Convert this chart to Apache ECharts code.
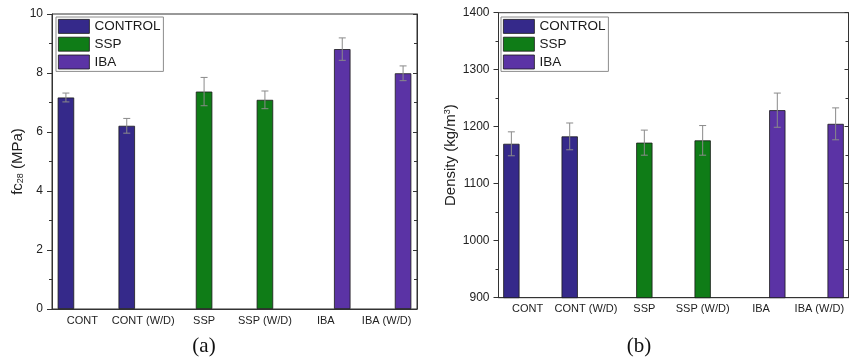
<!DOCTYPE html>
<html>
<head>
<meta charset="utf-8">
<script src="https://cdn.jsdelivr.net/npm/echarts@6/dist/echarts.min.js"></script>
<style>
  html, body { margin: 0; padding: 0; background: #fff; }
  #chart { width: 851px; height: 361px; }
</style>
</head>
<body>
<div id="chart"></div>
<script>
// ---- data ----
const categories = ['CONT', 'CONT (W/D)', 'SSP', 'SSP (W/D)', 'IBA', 'IBA (W/D)'];
const seriesNames = ['CONTROL', 'SSP', 'IBA'];

const fcControl = [7.17, 6.21, null, null, null, null];
const fcSSP     = [null, null, 7.37, 7.09, null, null];
const fcIBA     = [null, null, null, null, 8.81, 7.99];
const fcErr     = [0.15, 0.25, 0.48, 0.30, 0.38, 0.25];

const densControl = [1170, 1183, null, null, null, null];
const densSSP     = [null, null, 1172, 1176, null, null];
const densIBA     = [null, null, null, null, 1229, 1205];
const densErr     = [21, 23.5, 22, 26, 30, 28];

const fcTicks   = { min: 0, max: 10, interval: 2 };
const densTicks = { min: 900, max: 1400, interval: 100 };

// ---- styles ----
const colors = ['#35298a', '#0f7c17', '#5b33a5'];
const FONT = '"Liberation Sans", Arial, sans-serif';
const barW = [16.5, 16.3];

function errData(groups, errs) {
  const out = [];
  for (let i = 0; i < categories.length; i++) {
    for (let g = 0; g < groups.length; g++) {
      if (groups[g][i] != null) out.push([i, groups[g][i], errs[i], g]);
    }
  }
  return out;
}

function errSeries(idx, groups, errs) {
  return {
    type: 'custom',
    xAxisIndex: idx, yAxisIndex: idx * 2,
    z: 10,
    silent: true,
    data: errData(groups, errs),
    renderItem: function (params, api) {
      const cat = api.value(0), v = api.value(1), e = api.value(2), g = api.value(3);
      const c = api.coord([cat, v]);
      const t = api.coord([cat, v + e]);
      const b = api.coord([cat, v - e]);
      const x = c[0] + (g - 1) * barW[idx];
      const h = 3.5;
      const st = { stroke: '#8a8a8a', lineWidth: 1, fill: null };
      return {
        type: 'group',
        children: [
          { type: 'line', shape: { x1: x, y1: t[1], x2: x, y2: b[1] }, style: st },
          { type: 'line', shape: { x1: x - h, y1: t[1], x2: x + h, y2: t[1] }, style: st },
          { type: 'line', shape: { x1: x - h, y1: b[1], x2: x + h, y2: b[1] }, style: st }
        ]
      };
    }
  };
}

function barSeries(idx, groups) {
  return groups.map((d, g) => ({
    name: seriesNames[g],
    type: 'bar',
    xAxisIndex: idx, yAxisIndex: idx * 2,
    barWidth: barW[idx],
    barGap: '0%',
    data: d,
    itemStyle: { color: colors[g], borderColor: '#1b1b1b', borderWidth: 0.8 },
    emphasis: { disabled: true }
  }));
}

function xAxis(gridIndex) {
  return {
    type: 'category', gridIndex: gridIndex, data: categories,
    axisLine: { show: true, lineStyle: { color: '#333', width: 1 } },
    axisTick: { show: false },
    axisLabel: { fontSize: 11, color: '#222', fontFamily: FONT, margin: 6, interval: 0 },
    splitLine: { show: false }
  };
}

function yAxes(gridIndex, ticks, name, nameGap, rich) {
  return [
    {
      type: 'value', gridIndex: gridIndex, position: 'left',
      min: ticks.min, max: ticks.max, interval: ticks.interval,
      name: name, nameLocation: 'middle', nameGap: nameGap, nameRotate: 90,
      nameTextStyle: { fontSize: 15, color: '#222', fontFamily: FONT, rich: rich },
      axisLine: { show: true, lineStyle: { color: '#333', width: 1 } },
      axisTick: { show: true, inside: false, length: 5, lineStyle: { color: '#333' } },
      minorTick: { show: true, splitNumber: 2, length: 3, lineStyle: { color: '#333' } },
      axisLabel: { fontSize: 12, color: '#222', fontFamily: FONT, margin: 9, formatter: v => String(v) },
      splitLine: { show: false }
    },
    {
      type: 'value', gridIndex: gridIndex, position: 'right',
      min: ticks.min, max: ticks.max, interval: ticks.interval,
      axisLine: { show: true, lineStyle: { color: '#333', width: 1 } },
      axisTick: { show: true, inside: true, length: 4, lineStyle: { color: '#333' } },
      minorTick: { show: true, splitNumber: 2, length: 3, lineStyle: { color: '#333' } },
      axisLabel: { show: false },
      splitLine: { show: false }
    }
  ];
}

function legend(left, top) {
  return {
    orient: 'vertical', left: left, top: top,
    data: seriesNames,
    icon: 'rect',
    itemWidth: 31, itemHeight: 14, itemGap: 3,
    padding: [2, 3, 2, 2],
    backgroundColor: '#fff',
    borderColor: '#8c8c8c', borderWidth: 1,
    selectedMode: false,
    itemStyle: { borderColor: '#1b1b1b', borderWidth: 0.8 },
    textStyle: { fontSize: 13.5, color: '#1a1a1a', fontFamily: FONT, lineHeight: 14 }
  };
}

const fcGroups = [fcControl, fcSSP, fcIBA];
const densGroups = [densControl, densSSP, densIBA];

const option = {
  animation: false,
  backgroundColor: '#fff',
  grid: [
    { left: 52, top: 14, width: 365, height: 295, show: true, borderColor: '#333', borderWidth: 1, backgroundColor: 'transparent' },
    { left: 498.5, top: 12.7, width: 350, height: 285, show: true, borderColor: '#333', borderWidth: 1, backgroundColor: 'transparent' }
  ],
  legend: [legend(56, 17), legend(501, 17)],
  xAxis: [xAxis(0), xAxis(1)],
  yAxis: [].concat(
    yAxes(0, fcTicks, '{m|fc}{s|28}{m| (MPa)}', 27, {
      m: { fontSize: 15, color: '#222', fontFamily: FONT },
      s: { fontSize: 9, color: '#222', fontFamily: FONT, verticalAlign: 'bottom', padding: [6, 0, 0, 0] }
    }),
    yAxes(1, densTicks, '{m|Density (kg/m}{s|3}{m|)}', 40, {
      m: { fontSize: 15, color: '#222', fontFamily: FONT },
      s: { fontSize: 9, color: '#222', fontFamily: FONT, verticalAlign: 'top', padding: [0, 0, 6, 0] }
    })
  ),
  graphic: [
    { type: 'text', x: 204, y: 346, style: { text: '(a)', fontSize: 21, fontFamily: '"Liberation Serif", "Times New Roman", serif', fill: '#111', textAlign: 'center', textVerticalAlign: 'middle' } },
    { type: 'text', x: 639, y: 346, style: { text: '(b)', fontSize: 21, fontFamily: '"Liberation Serif", "Times New Roman", serif', fill: '#111', textAlign: 'center', textVerticalAlign: 'middle' } }
  ],
  series: [].concat(
    barSeries(0, fcGroups),
    barSeries(1, densGroups),
    [errSeries(0, fcGroups, fcErr), errSeries(1, densGroups, densErr)]
  )
};

const chart = echarts.init(document.getElementById('chart'), null, { renderer: 'canvas' });
chart.setOption(option);
</script>
</body>
</html>
